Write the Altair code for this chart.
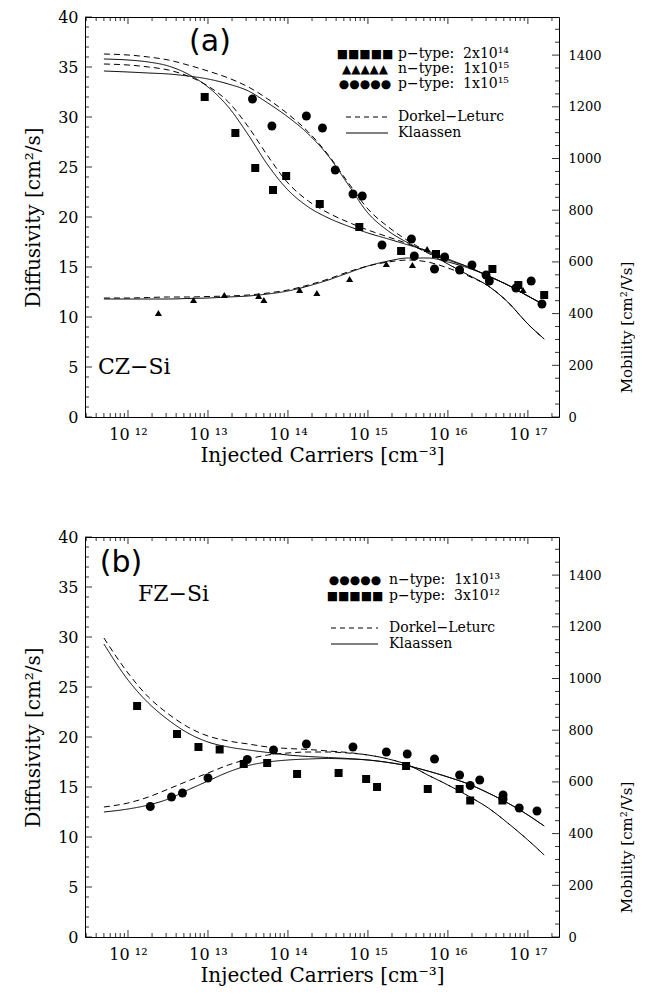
import altair as alt
import pandas as pd

# ---------------- data ----------------
# common grid of injected-carrier densities for the model curves [cm^-3]
grid_N = [5e11, 1e12, 1.8e12, 3.2e12, 5.6e12, 1e13, 1.8e13, 3.2e13, 5.6e13,
          1e14, 1.8e14, 3.2e14, 5.6e14, 1e15, 1.8e15, 3.2e15, 5.6e15,
          1e16, 1.8e16, 3.2e16, 5.6e16, 1e17, 1.6e17]

# panel (a) CZ-Si : model curves (diffusivity, cm^2/s)
a_p2e14_klaassen = [35.8, 35.7, 35.5, 35.1, 34.3, 33.0, 31.0, 28.2, 25.2, 22.7, 21.0, 19.9,
                    19.1, 18.4, 17.8, 17.2, 16.6, 15.8, 15.0, 14.1, 13.2, 12.1, 11.2]
a_p2e14_dorkel = [35.3, 35.2, 35.0, 34.7, 34.1, 33.1, 31.5, 29.0, 26.1, 23.4, 21.6, 20.4,
                  19.5, 18.7, 18.0, 17.3, 16.4, 15.3, 14.2, 13.1, 11.5, 9.3, 7.8]
a_p1e15_klaassen = [34.6, 34.5, 34.4, 34.3, 34.1, 33.8, 33.3, 32.6, 31.4, 30.0, 28.3, 26.1,
                    23.3, 20.4, 18.6, 17.4, 16.5, 15.7, 15.0, 14.1, 13.2, 12.1, 11.2]
a_p1e15_dorkel = [36.3, 36.2, 36.0, 35.7, 35.2, 34.6, 33.9, 33.0, 31.8, 30.3, 28.5, 26.2,
                  23.5, 20.8, 19.0, 17.6, 16.5, 15.3, 14.2, 13.1, 11.5, 9.3, 7.8]
a_n1e15_klaassen = [11.8, 11.8, 11.8, 11.8, 11.85, 11.9, 12.0, 12.1, 12.3, 12.6, 13.1, 13.7,
                    14.4, 15.1, 15.6, 15.9, 15.9, 15.5, 14.9, 14.1, 13.2, 12.1, 11.2]
a_n1e15_dorkel = [11.9, 11.9, 11.95, 12.0, 12.0, 12.05, 12.1, 12.2, 12.4, 12.7, 13.2, 13.8,
                  14.5, 15.1, 15.5, 15.7, 15.5, 14.9, 14.1, 13.1, 11.5, 9.3, 7.8]

# panel (a) measured points
a_sq_N = [9.1e12, 2.2e13, 3.9e13, 6.5e13, 9.5e13, 2.5e14, 7.8e14, 2.6e15, 7.1e15, 3.6e16, 7.6e16, 1.6e17]
a_sq_D = [32.0, 28.4, 24.9, 22.7, 24.1, 21.3, 19.0, 16.6, 16.3, 14.8, 13.2, 12.2]
a_tr_N = [2.4e12, 6.6e12, 1.6e13, 4.3e13, 5.0e13, 1.4e14, 2.3e14, 5.9e14, 1.7e15, 3.6e15, 5.5e15, 8.7e16]
a_tr_D = [10.4, 11.7, 12.2, 12.1, 11.7, 12.7, 12.4, 13.8, 15.3, 15.2, 16.8, 12.7]
a_ci_N = [3.6e13, 6.3e13, 1.7e14, 2.7e14, 3.9e14, 6.5e14, 8.5e14, 1.5e15, 3.5e15, 3.8e15,
          6.8e15, 9.1e15, 1.4e16, 2.0e16, 3.0e16, 3.3e16, 7.1e16, 1.1e17, 1.5e17]
a_ci_D = [31.8, 29.1, 30.1, 28.9, 24.7, 22.3, 22.1, 17.2, 17.8, 16.1,
          14.8, 16.0, 14.7, 15.2, 14.2, 13.6, 12.9, 13.6, 11.3]

# panel (b) FZ-Si : model curves
b_p3e12_klaassen = [29.3, 25.7, 23.4, 21.7, 20.4, 19.5, 19.0, 18.7, 18.45, 18.2, 18.05, 17.95,
                    17.85, 17.7, 17.45, 17.1, 16.6, 16.0, 15.3, 14.4, 13.4, 12.2, 11.1]
b_p3e12_dorkel = [29.9, 26.4, 24.0, 22.3, 21.0, 20.1, 19.6, 19.3, 19.0, 18.85, 18.75, 18.6,
                  18.45, 18.2, 17.8, 17.2, 16.2, 15.2, 14.1, 12.9, 11.4, 9.7, 8.2]
b_n1e13_klaassen = [12.5, 12.8, 13.2, 13.8, 14.7, 15.6, 16.5, 17.15, 17.5, 17.7, 17.8, 17.85,
                    17.8, 17.7, 17.45, 17.1, 16.6, 16.0, 15.3, 14.4, 13.4, 12.2, 11.1]
b_n1e13_dorkel = [13.0, 13.4, 14.0, 14.8, 15.6, 16.4, 17.2, 17.8, 18.2, 18.4, 18.5, 18.5,
                  18.4, 18.2, 17.8, 17.2, 16.2, 15.2, 14.1, 12.9, 11.4, 9.7, 8.2]

# panel (b) measured points
b_ci_N = [1.9e12, 3.5e12, 4.8e12, 1.0e13, 3.1e13, 6.6e13, 1.7e14, 6.5e14, 1.7e15, 3.1e15,
          6.8e15, 1.4e16, 1.9e16, 2.5e16, 4.9e16, 4.9e16, 7.8e16, 1.3e17]
b_ci_D = [13.05, 14.0, 14.4, 15.9, 17.75, 18.7, 19.3, 19.0, 18.5, 18.3,
          17.8, 16.2, 15.15, 15.7, 14.2, 13.8, 12.9, 12.6]
b_sq_N = [1.3e12, 4.1e12, 7.6e12, 1.4e13, 2.8e13, 5.5e13, 1.3e14, 4.3e14, 9.5e14, 1.3e15,
          3.0e15, 5.6e15, 1.4e16, 1.9e16, 4.8e16]
b_sq_D = [23.1, 20.3, 19.0, 18.75, 17.3, 17.4, 16.3, 16.4, 15.8, 15.0,
          17.1, 14.8, 14.8, 13.65, 13.65]

# axes
x_domain = [2.9e11, 2.45e17]
x_major = [1e12, 1e13, 1e14, 1e15, 1e16, 1e17]
x_minor = [k * 10.0 ** n for n in range(11, 18) for k in range(2, 10)
           if x_domain[0] <= k * 10.0 ** n <= x_domain[1]]
d_major = list(range(0, 41, 5))
d_minor = [v for v in range(0, 41) if v % 5]
mu_max = 40 / 0.02585
m_major = list(range(0, 1401, 200))
m_minor = [v for v in range(0, 1548, 50) if v % 200]

NB = "\u00a0"
legend_a = [("■■■■■", f"p−type:{NB}{NB}2x10¹⁴"), ("▲▲▲▲▲", f"n−type:{NB}{NB}1x10¹⁵"),
            ("●●●●●", f"p−type:{NB}{NB}1x10¹⁵")]
legend_b = [("●●●●●", f"n−type:{NB}{NB}1x10¹³"), ("■■■■■", f"p−type:{NB}{NB}3x10¹²")]
models = ["Dorkel−Leturc", "Klaassen"]

# ---------------- chart ----------------
W, H = 474, 400
SERIF = "DejaVu Serif"
MAJ, MIN = 7, 4

sup = {12: "¹²", 13: "¹³", 14: "¹⁴", 15: "¹⁵", 16: "¹⁶", 17: "¹⁷"}
expo = "round(log(datum.value)/LN10)"
label_expr = "'10 ' + (" + " : ".join(f"{expo} == {k} ? '{v}'" for k, v in sup.items()) + " : '')"

axisX = alt.Axis(values=x_major, labelExpr=label_expr, ticks=False, domain=False, grid=False,
                 labelFont=SERIF, labelFontSize=16, labelPadding=9, labelColor="black",
                 title="Injected Carriers [cm⁻³]", titleFont=SERIF, titleFontSize=20,
                 titleFontWeight="normal", titlePadding=3, titleColor="black")
axisD = alt.Axis(values=d_major, ticks=False, domain=False, grid=False,
                 labelFont=SERIF, labelFontSize=16, labelPadding=7, labelColor="black",
                 title="Diffusivity [cm²/s]", titleFont=SERIF, titleFontSize=20,
                 titleFontWeight="normal", titlePadding=14, titleColor="black")
axisM = alt.Axis(orient="right", values=m_major, format="d", ticks=False, domain=False, grid=False,
                 labelFont=SERIF, labelFontSize=13, labelPadding=9, labelColor="black",
                 title="Mobility [cm²/Vs]", titleFont=SERIF, titleFontSize=15,
                 titleFontWeight="normal", titlePadding=33, titleColor="black",
                 titleAngle=270, titleY=310)

xN = alt.X("N:Q", scale=alt.Scale(type="log", domain=x_domain, nice=False), axis=axisX)
yD = alt.Y("D:Q", scale=alt.Scale(domain=[0, 40], nice=False), axis=axisD)
yM = alt.Y("M:Q", scale=alt.Scale(domain=[0, mu_max], nice=False), axis=axisM)


def curves_df(curves):
    rows = []
    for name, model, vals in curves:
        for n, d in zip(grid_N, vals):
            rows.append({"N": n, "D": d, "curve": name + model, "model": model})
    return pd.DataFrame(rows)


def pts(N, D):
    return pd.DataFrame({"N": N, "D": D})


def text_at(t, x, y, size, font=SERIF, align="left"):
    return alt.Chart(alt.Data(values=[{"t": t}])).mark_text(
        font=font, fontSize=size, align=align, baseline="middle", color="black"
    ).encode(text="t:N", x=alt.value(x), y=alt.value(y))


def line_sample(x1, x2, y, dash):
    return alt.Chart(alt.Data(values=[{"a": 1}])).mark_rule(
        color="black", strokeWidth=1, strokeDash=dash
    ).encode(x=alt.value(x1), x2=alt.value(x2), y=alt.value(y))


def frame_ticks():
    xt_maj = pd.DataFrame({"N": x_major})
    xt_min = pd.DataFrame({"N": x_minor})
    dt_maj = pd.DataFrame({"D": d_major})
    dt_min = pd.DataFrame({"D": d_minor})
    layers = []
    for df, L in ((xt_maj, MAJ), (xt_min, MIN)):
        layers.append(alt.Chart(df).mark_rule(color="black", strokeWidth=0.8).encode(
            x=xN, y=alt.value(H), y2=alt.value(H - L)))
        layers.append(alt.Chart(df).mark_rule(color="black", strokeWidth=0.8).encode(
            x=xN, y=alt.value(0), y2=alt.value(L)))
    for df, L in ((dt_maj, MAJ), (dt_min, MIN)):
        layers.append(alt.Chart(df).mark_rule(color="black", strokeWidth=0.8).encode(
            y=yD, x=alt.value(0), x2=alt.value(L)))
    return layers


def right_axis():
    mt_maj = pd.DataFrame({"M": m_major})
    mt_min = pd.DataFrame({"M": m_minor})
    return alt.layer(
        alt.Chart(mt_maj).mark_rule(color="black", strokeWidth=0.8).encode(
            y=yM, x=alt.value(W), x2=alt.value(W - MAJ)),
        alt.Chart(mt_min).mark_rule(color="black", strokeWidth=0.8).encode(
            y=yM, x=alt.value(W), x2=alt.value(W - MIN)),
    )


def lines(df):
    return alt.Chart(df).mark_line(color="black", strokeWidth=1, interpolate="monotone").encode(
        x=xN, y=yD, detail="curve:N",
        strokeDash=alt.StrokeDash("model:N", scale=alt.Scale(domain=models, range=[[6, 4], [1, 0]]),
                                  legend=None))


def squares(df, size=64):
    return alt.Chart(df).mark_square(color="black", opacity=1, size=size).encode(x=xN, y=yD)


def circles(df, size=80):
    return alt.Chart(df).mark_circle(color="black", opacity=1, size=size).encode(x=xN, y=yD)


def triangles(df, size=50):
    return alt.Chart(df).mark_point(shape="triangle-up", filled=True, color="black",
                                    opacity=1, size=size).encode(x=xN, y=yD)


def legend(rows, sym_x, txt_x, y0, dy, ly0, ldy, lx1, lx2):
    out = []
    for i, (sym, lab) in enumerate(rows):
        out.append(text_at(sym, sym_x, y0 + i * dy, 12, font="DejaVu Sans", align="center"))
        out.append(text_at(lab, txt_x, y0 + i * dy, 14))
    out.append(line_sample(lx1, lx2, ly0, [5, 4]))
    out.append(text_at(models[0], txt_x, ly0, 14))
    out.append(line_sample(lx1, lx2, ly0 + ldy, [1, 0]))
    out.append(text_at(models[1], txt_x, ly0 + ldy, 14))
    return out


# panel (a)
curves_a = curves_df([
    ("p2e14", models[1], a_p2e14_klaassen), ("p2e14", models[0], a_p2e14_dorkel),
    ("p1e15", models[1], a_p1e15_klaassen), ("p1e15", models[0], a_p1e15_dorkel),
    ("n1e15", models[1], a_n1e15_klaassen), ("n1e15", models[0], a_n1e15_dorkel),
])

left_a = alt.layer(
    *frame_ticks(),
    lines(curves_a),
    squares(pts(a_sq_N, a_sq_D)),
    triangles(pts(a_tr_N, a_tr_D)),
    circles(pts(a_ci_N, a_ci_D)),
    text_at("(a)", 125, 25, 30, font="DejaVu Sans", align="center"),
    text_at("CZ−Si", 13, 350, 22),
    *legend(legend_a, 280, 313, 37, 15, 100, 16, 261, 303),
)
panel_a = alt.layer(left_a, right_axis()).resolve_scale(y="independent").properties(width=W, height=H)

# panel (b)
curves_b = curves_df([
    ("p3e12", models[1], b_p3e12_klaassen), ("p3e12", models[0], b_p3e12_dorkel),
    ("n1e13", models[1], b_n1e13_klaassen), ("n1e13", models[0], b_n1e13_dorkel),
])

left_b = alt.layer(
    *frame_ticks(),
    lines(curves_b),
    circles(pts(b_ci_N, b_ci_D)),
    squares(pts(b_sq_N, b_sq_D)),
    text_at("(b)", 36, 26, 30, font="DejaVu Sans", align="center"),
    text_at("FZ−Si", 53, 57, 22),
    *legend(legend_b, 270, 304, 43, 16, 91, 16, 246, 293),
)
panel_b = alt.layer(left_b, right_axis()).resolve_scale(y="independent").properties(width=W, height=H)

chart = alt.vconcat(panel_a, panel_b, spacing=62).properties(
    padding={"left": 15, "top": 0, "right": 0, "bottom": 2}, background="white"
).configure_view(stroke="black", strokeWidth=1)

chart.save("out.html", embed_options={"renderer": "svg", "actions": False})
